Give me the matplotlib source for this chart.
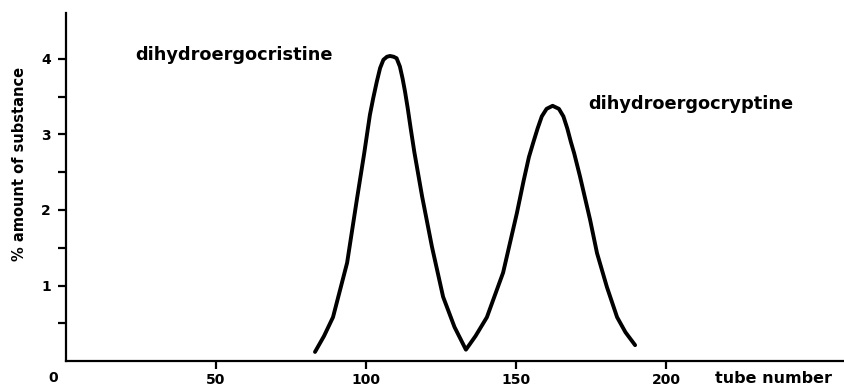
import matplotlib
matplotlib.use("Agg")
import matplotlib.pyplot as plt
import matplotlib.transforms as mtransforms

# Data
tube = [83, 86, 89, 93.7, 97, 99.4, 101.3, 102.4, 103.6, 104.7, 105.8, 107, 108,
        109.2, 110.2, 111.3, 112.2, 113, 113.9, 114.9, 116.1, 118.7, 122, 125.7,
        129.5, 133.3, 136.5, 140.3, 145.7, 150.3, 152.5, 154.3, 155.8, 157.2,
        158.6, 160.2, 162.2, 164.3, 165.8, 167.1, 168.3, 169.4, 171.3, 174.7,
        177, 180.3, 183.7, 186.5, 189.7]
amount = [0.12, 0.33, 0.58, 1.30, 2.15, 2.75, 3.26, 3.48, 3.70, 3.88, 3.99, 4.03, 4.04,
          4.03, 4.01, 3.90, 3.74, 3.57, 3.35, 3.08, 2.77, 2.18, 1.51, 0.85,
          0.45, 0.15, 0.33, 0.58, 1.17, 1.96, 2.38, 2.70, 2.90, 3.08,
          3.24, 3.34, 3.38, 3.34, 3.24, 3.08, 2.90, 2.75, 2.45, 1.87,
          1.43, 0.98, 0.58, 0.38, 0.21]
xticks = [50, 100, 150, 200]
yticks = [1, 2, 3, 4]
yminor = [0.5, 1.5, 2.5, 3.5]
label1 = "dihydroergocristine"
label2 = "dihydroergocryptine"

plt.rcParams['font.family'] = ['DejaVu Sans']
plt.rcParams['font.weight'] = 'bold'

fig = plt.figure(figsize=(8.45, 3.88), dpi=100)
ax = fig.add_axes([66/845, 1-361/388, 1-66/845, (361-13)/388])
ax.plot(tube, amount, color='black', lw=2.8, solid_capstyle='round', solid_joinstyle='round')

ax.set_xlim(0, (845-66)/3)
ax.set_ylim(0, (361-13)/75.5)
for s in ['top', 'right']:
    ax.spines[s].set_visible(False)
for s in ['left', 'bottom']:
    ax.spines[s].set_linewidth(1.6)

ax.set_xticks(xticks)
ax.set_xticklabels([str(t) for t in xticks], fontsize=10, fontweight='bold')
ax.set_yticks(yticks)
ax.set_yticklabels([str(t) for t in yticks], fontsize=10, fontweight='bold')
ax.set_yticks(yminor, minor=True)
ax.tick_params(axis='y', which='major', length=6, width=1.6, direction='out', pad=5)
ax.tick_params(axis='x', which='major', length=6, width=1.6, direction='out', pad=3)
ax.tick_params(axis='y', which='minor', length=6, width=1.6, direction='out')

trans = mtransforms.blended_transform_factory(ax.transData, ax.transAxes)
ax.text(-4.3, -0.05, "0", transform=trans, ha='center', va='center', fontsize=10, fontweight='bold')
ax.text(235.7, -0.05, "tube number", transform=trans, ha='center', va='center', fontsize=11.5, fontweight='bold')

ax.set_ylabel("% amount of substance", fontsize=10.5, fontweight='bold')
ax.yaxis.set_label_coords(-0.050, 0.566)

ax.text(23, 4.05, label1, fontsize=12.8, fontweight='bold', ha='left', va='center')
ax.text(174, 3.40, label2, fontsize=12.8, fontweight='bold', ha='left', va='center')

fig.savefig("out.png", dpi=100)
